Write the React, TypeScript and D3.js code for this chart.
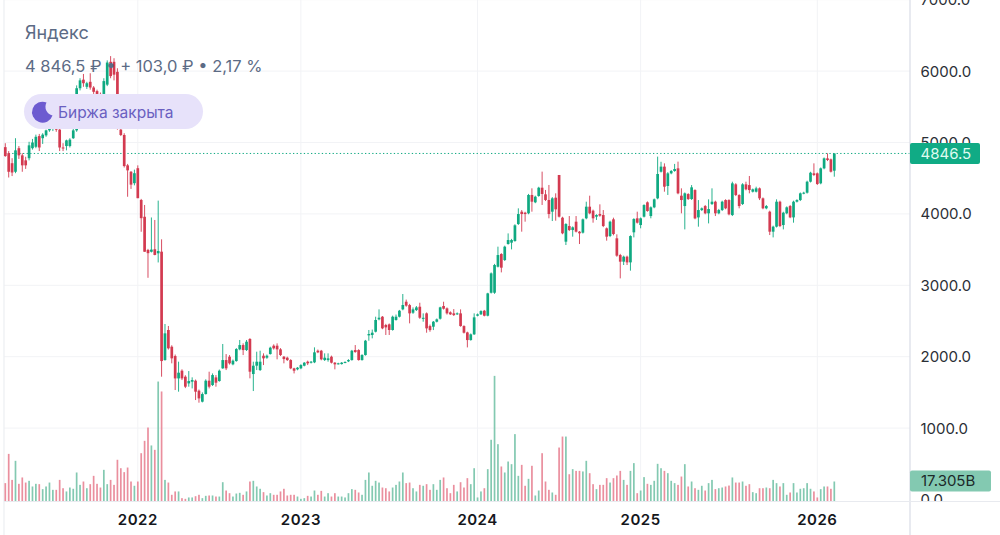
import { useEffect, useRef } from 'react';
import * as d3 from 'd3';

// weekly candles
const opens = [
  4935,4850,4710,4590,4920,4820,4750,4780,4920,4940,5090,5060,5100,5170,5190,5210,5180,4930,4950,4950,
  5060,5170,5760,5880,5780,5850,5770,5720,5680,5680,5810,6130,6130,5990,5180,5105,4680,4590,4430,4640,
  4195,3960,3495,3470,3505,3448,3471,1953,2374,2140,2009,1696,1804,1720,1626,1650,1664,1524,1370,1477,
  1664,1603,1710,1659,1837,1953,2000,1893,1939,2103,2163,2093,2248,1757,1874,1813,2014,1986,2037,2154,
  2154,2103,2000,1986,1953,1837,1823,1837,1874,1930,1916,1921,2084,2084,1953,1953,2000,1916,1897,1897,
  1916,1935,1953,2093,2093,1953,2023,2299,2304,2350,2523,2560,2444,2453,2374,2514,2560,2663,2770,2723,
  2616,2653,2700,2530,2607,2429,2420,2490,2532,2710,2677,2621,2607,2593,2607,2429,2340,2233,2313,2574,
  2593,2644,2574,2896,2896,3260,3438,3354,3578,3597,3620,3858,4031,4017,4008,4265,4162,4251,4367,4274,
  4195,4031,4227,4545,3947,3611,3830,3774,3891,3751,3737,3938,4101,4045,3961,3998,3984,3798,3690,3924,
  3658,3424,3331,3401,3321,3742,3938,3844,3961,4162,3970,4092,4218,4591,4662,4391,4568,4601,4638,4255,
  4110,4278,4208,4334,3951,4054,4110,4008,4138,4171,4008,4054,4194,4194,3984,4414,4264,4138,4414,4404,
  4311,4311,4358,4218,4078,4031,3751,3821,4171,3844,4008,4110,3951,4171,4194,4288,4297,4451,4568,4568,
  4428,4638,4778,4764,4605,
];
const closes = [
  4810,4590,4580,4890,4820,4680,4680,4960,5000,5080,4930,5110,5170,5190,5210,5180,4930,4920,5030,5040,
  5170,5760,5870,5830,5830,5770,5710,5680,5650,5860,6120,5930,5950,5200,5105,4670,4610,4410,4570,4220,
  3940,3470,3450,3500,3425,3480,1939,2327,2117,1977,1696,1776,1696,1580,1659,1673,1510,1416,1477,1664,
  1580,1743,1636,1804,1953,1837,1907,1944,2107,2163,2093,2210,1790,1874,1930,1930,1977,2014,2126,2117,
  2103,2023,1967,1953,1837,1804,1846,1883,1916,1907,1930,2061,2061,1963,1986,1977,1916,1893,1907,1916,
  1925,1953,2084,2065,1953,2023,2224,2318,2336,2514,2546,2397,2411,2374,2560,2560,2644,2724,2715,2607,
  2663,2691,2546,2545,2397,2373,2490,2523,2691,2672,2607,2593,2583,2607,2429,2336,2233,2313,2551,2593,
  2639,2574,2887,3167,3284,3424,3247,3541,3634,3634,3840,3998,3998,3998,4265,4171,4241,4367,4279,4195,
  3998,4218,4064,3961,3728,3858,3774,3812,3751,3728,3924,4101,4008,3938,3984,3975,3830,3681,3891,3718,
  3415,3331,3401,3321,3690,3928,3877,3938,4124,4040,4092,4204,4559,4662,4381,4568,4601,4629,4288,4194,
  4288,4208,4372,3937,4054,4078,4008,4068,4171,4008,4054,4171,4078,3994,4428,4264,4110,4414,4344,4334,
  4344,4358,4218,4078,4110,3751,3821,4171,3830,4017,4092,3951,4171,4194,4288,4297,4451,4577,4545,4419,
  4638,4778,4755,4591,4846.5,
];
const highs = [
  4990,4880,4780,5060,4950,4850,4800,5010,5050,5110,5120,5130,5180,5220,5240,5230,5190,4990,5040,5060,
  5200,5800,5900,5960,5850,5970,5790,5740,5700,5900,6150,6210,6180,6040,5190,5130,4700,4600,4620,4680,
  4210,4125,3510,3950,3915,4186,3644,2458,2430,2160,2030,1930,1823,1740,1799,1711,1680,1540,1500,1683,
  1790,1766,1743,1820,2178,2037,2023,1960,2120,2234,2187,2234,2260,1930,2070,2084,2047,2030,2140,2173,
  2187,2120,2010,2000,1965,1845,1855,1895,1925,1945,1940,2131,2100,2095,2047,2047,2015,1925,1915,1925,
  1935,1965,2095,2163,2105,2035,2235,2374,2380,2560,2663,2570,2460,2465,2575,2590,2655,2878,2800,2740,
  2690,2710,2756,2607,2620,2450,2500,2535,2700,2770,2690,2635,2667,2620,2663,2440,2350,2325,2607,2605,
  2650,2655,2895,3180,3300,3541,3450,3555,3727,3650,3855,4078,4054,4030,4280,4358,4255,4380,4592,4335,
  4405,4235,4288,4545,3960,3870,3970,3825,3970,3760,3935,4171,4255,4060,3995,4134,4054,3810,3905,3947,
  3714,3440,3415,3415,3700,3940,4031,3950,4135,4175,4105,4215,4802,4730,4708,4585,4615,4700,4732,4358,
  4300,4290,4404,4345,4194,4090,4125,4204,4358,4185,4070,4185,4205,4205,4451,4430,4275,4430,4451,4531,
  4355,4381,4370,4230,4125,4045,3835,4204,4185,4030,4105,4125,4185,4205,4300,4310,4465,4590,4708,4580,
  4650,4790,4848,4775,4846.5,
];
const lows = [
  4800,4510,4530,4570,4770,4590,4630,4750,4900,4920,4880,4980,5080,5150,5160,5150,4880,4880,4890,4930,
  5050,5150,5730,5780,5750,5740,5680,5650,5630,5650,5790,5900,5870,5180,5090,4650,4240,4350,4400,4220,
  3750,3470,3105,3460,3420,3320,1720,1945,2100,1907,1533,1510,1673,1560,1580,1556,1393,1356,1360,1470,
  1556,1590,1580,1650,1830,1813,1890,1880,1930,2090,2023,2080,1697,1519,1813,1800,1883,1970,2030,2100,
  1963,2010,1907,1940,1825,1766,1810,1825,1865,1883,1905,1910,2050,1950,1940,1930,1905,1823,1890,1890,
  1910,1925,1945,2055,1945,1945,2015,2224,2257,2340,2510,2385,2304,2304,2365,2505,2550,2650,2700,2467,
  2600,2640,2530,2490,2336,2350,2373,2480,2520,2660,2590,2585,2570,2585,2420,2325,2130,2225,2305,2565,
  2585,2565,2565,2885,2880,3250,3181,3340,3570,3503,3610,3845,3751,3891,3995,4031,4150,4240,4125,4180,
  3938,3900,3905,3950,3715,3564,3760,3681,3740,3578,3725,3925,3995,3877,3915,3960,3815,3625,3675,3700,
  3400,3097,3284,3284,3205,3671,3865,3798,3950,4030,3938,4080,4205,4580,4311,4265,4555,4590,4275,4008,
  3783,4195,4195,3925,3821,4040,3995,3867,4125,3970,3995,4040,4065,3980,3970,4250,4078,4125,4330,4288,
  4300,4300,4194,4065,4065,3704,3671,3810,3815,3783,3995,3940,3877,4160,4180,4275,4285,4440,4530,4405,
  4415,4625,4740,4580,4521,
];
// volume in billions
const volumes = [
  15.9,41.2,18.7,35.2,15.3,20.8,16.4,17.9,13.0,15.3,15.0,10.7,13.0,16.4,10.1,10.1,18.7,11.5,8.7,12.1,
  11.0,25.1,14.4,17.3,11.5,15.0,22.2,15.3,12.1,27.4,15.0,18.7,14.4,36.1,28.8,25.4,29.4,17.3,13.6,17.3,
  41.8,52.5,64.0,48.5,44.7,103.8,95.2,18.7,16.4,5.8,8.7,8.7,2.9,2.3,3.5,3.5,4.6,5.8,2.9,4.9,
  5.2,5.2,4.3,4.3,16.7,9.5,7.2,4.3,6.9,7.5,5.8,8.7,17.3,17.9,13.0,11.0,8.1,5.2,7.2,5.8,
  5.8,8.7,11.0,5.2,5.8,5.8,4.3,2.3,2.9,4.9,4.3,9.5,5.8,9.2,4.3,7.2,
  4.3,7.2,4.3,4.3,3.5,7.2,10.7,10.1,7.8,5.8,18.7,25.1,13.6,17.9,16.4,12.1,11.5,8.7,12.1,14.4,
  17.3,25.1,15.9,16.4,11.5,8.7,14.4,13.6,15.0,10.1,15.0,10.1,18.7,20.8,11.5,7.2,14.4,8.7,16.7,12.1,
  20.2,15.0,28.8,3.5,8.7,11.5,28.0,53.4,108.7,49.6,30.3,25.1,34.6,32.3,58.3,22.2,31.7,13.6,19.6,30.9,
  5.2,9.5,41.8,17.3,10.1,7.8,5.8,46.7,56.2,56.2,23.6,28.0,26.5,26.5,26.0,35.2,24.5,15.0,10.7,14.4,
  14.4,20.2,16.4,20.2,22.5,26.5,18.7,14.4,26.5,33.2,7.2,9.5,21.1,15.3,14.4,17.9,32.6,28.8,26.5,24.5,
  17.9,15.9,14.4,21.6,32.3,13.0,17.3,11.5,10.1,13.6,9.5,15.9,18.7,10.7,11.5,12.1,13.0,13.8,20.8,16.4,
  16.4,17.3,13.6,15.0,8.1,7.2,11.5,11.5,12.1,11.5,18.7,15.9,13.0,15.9,5.8,7.8,15.9,7.8,11.0,11.5,
  15.9,11.0,8.7,3.5,10.7,13.0,13.0,11.0,17.305,
];

const priceTicks = [0, 1000, 2000, 3000, 4000, 5000, 6000, 7000];
const yearLabels = ['2022', '2023', '2024', '2025', '2026'];
const yearBars = [39, 87, 139, 187, 239];
const lastPrice = 4846.5;

const UP = '#0fa981';
const DOWN = '#d33a50';
const UP_VOL = '#83c9b1';
const DOWN_VOL = '#ea8f9e';
const FONT = 'Inter, "Noto Sans", sans-serif';

const App = () => {
  const svgRef = useRef<SVGSVGElement>(null);

  useEffect(() => {
    const svg = d3.select(svgRef.current!);
    svg.selectAll('*').remove();

    const plotRight = 910;
    const baseY = 501.5;
    const x = d3.scaleLinear().domain([0, opens.length - 1]).range([5.3, 834.3]);
    const y = d3.scaleLinear().domain([0, 7000]).range([499.5, -0.3]);
    const v = d3.scaleLinear().domain([0, 17.305]).range([baseY, baseY - 20]);
    const isUp = (i: number) => closes[i] >= opens[i];

    svg.append('defs').append('clipPath').attr('id', 'axis-clip')
      .append('rect').attr('x', plotRight).attr('y', 0).attr('width', 90).attr('height', baseY);

    // grid
    svg.append('g').selectAll('line').data(priceTicks.filter(d => d > 0)).join('line')
      .attr('x1', 4).attr('x2', plotRight)
      .attr('y1', d => y(d)).attr('y2', d => y(d))
      .attr('stroke', '#f2f3f6').attr('stroke-width', 1);
    svg.append('g').selectAll('line').data(yearBars).join('line')
      .attr('x1', d => x(d)).attr('x2', d => x(d))
      .attr('y1', 0).attr('y2', baseY)
      .attr('stroke', '#f2f3f6').attr('stroke-width', 1);

    svg.append('line').attr('x1', 4).attr('x2', 4).attr('y1', 0).attr('y2', 535)
      .attr('stroke', '#eceef2').attr('stroke-width', 1.2);

    // volume
    svg.append('g').selectAll('rect').data(volumes).join('rect')
      .attr('x', (_, i) => x(i) - 0.85)
      .attr('width', 1.7)
      .attr('y', d => v(d))
      .attr('height', d => baseY - v(d))
      .attr('fill', (_, i) => (isUp(i) ? UP_VOL : DOWN_VOL));

    // last price line
    svg.append('line').attr('x1', 5).attr('x2', plotRight)
      .attr('y1', y(lastPrice)).attr('y2', y(lastPrice))
      .attr('stroke', UP).attr('stroke-width', 1).attr('stroke-dasharray', '1.3 2.3');

    // candles
    const candle = svg.append('g').selectAll('g').data(opens).join('g')
      .attr('fill', (_, i) => (isUp(i) ? UP : DOWN))
      .attr('stroke', (_, i) => (isUp(i) ? UP : DOWN));
    candle.append('line')
      .attr('x1', (_, i) => x(i)).attr('x2', (_, i) => x(i))
      .attr('y1', (_, i) => y(highs[i])).attr('y2', (_, i) => y(lows[i]))
      .attr('stroke-width', 0.9);
    candle.append('rect')
      .attr('stroke', 'none')
      .attr('x', (_, i) => x(i) - 1.35)
      .attr('width', 2.7)
      .attr('y', (_, i) => y(Math.max(opens[i], closes[i])))
      .attr('height', (_, i) => Math.max(1, Math.abs(y(opens[i]) - y(closes[i]))));

    // right axis
    svg.append('g').attr('clip-path', 'url(#axis-clip)').selectAll('text').data(priceTicks).join('text')
      .attr('x', 920.5).attr('y', d => y(d)).attr('dy', '0.36em')
      .attr('font-family', FONT).attr('font-size', 15).attr('fill', '#2b2f36')
      .text(d => d3.format('.1f')(d));

    svg.append('line').attr('x1', plotRight).attr('x2', plotRight).attr('y1', 0).attr('y2', 535)
      .attr('stroke', '#d9dce6').attr('stroke-width', 1.2);
    svg.append('line').attr('x1', 4).attr('x2', 1000).attr('y1', baseY).attr('y2', baseY)
      .attr('stroke', '#e8eaef').attr('stroke-width', 1);

    // bottom axis
    svg.append('g').selectAll('text').data(yearLabels).join('text')
      .attr('x', (_, i) => x(yearBars[i])).attr('y', 520).attr('dy', '0.36em')
      .attr('text-anchor', 'middle')
      .attr('font-family', FONT).attr('font-size', 15).attr('font-weight', 600)
      .attr('letter-spacing', 0.5).attr('fill', '#15171c')
      .text(d => d);

    // price tags
    svg.append('rect').attr('x', plotRight).attr('y', 143).attr('width', 70).attr('height', 21)
      .attr('rx', 2).attr('fill', '#10ab85');
    svg.append('text').attr('x', 920.5).attr('y', 153.5).attr('dy', '0.36em')
      .attr('font-family', FONT).attr('font-size', 15).attr('fill', '#dffbf0').text('4846.5');
    svg.append('rect').attr('x', plotRight).attr('y', 470.5).attr('width', 81).attr('height', 21)
      .attr('rx', 2).attr('fill', UP_VOL);
    svg.append('text').attr('x', 921).attr('y', 481).attr('dy', '0.36em')
      .attr('font-family', FONT).attr('font-size', 15).attr('fill', '#1d2a2a').text('17.305B');

    // header
    svg.append('text').attr('x', 25).attr('y', 33).attr('dy', '0.36em')
      .attr('font-family', FONT).attr('font-size', 18).attr('fill', '#5c6b85').text('Яндекс');
    svg.append('text').attr('x', 25).attr('y', 66).attr('dy', '0.36em')
      .attr('font-family', FONT).attr('font-size', 16.5).attr('fill', '#5c6b85').text('4 846,5 ₽ • + 103,0 ₽ • 2,17 %');
    svg.append('rect').attr('x', 24).attr('y', 94).attr('width', 179).attr('height', 35)
      .attr('rx', 17.5).attr('fill', '#e7e2fa');
    svg.append('path')
      .attr('d', 'M46.5 102.5 A10.5 10.5 0 1 0 52.5 115.5 A9 9 0 0 1 46.5 102.5 Z')
      .attr('fill', '#6d5bd0');
    svg.append('text').attr('x', 58).attr('y', 112).attr('dy', '0.36em')
      .attr('font-family', FONT).attr('font-size', 15.5).attr('fill', '#6a5fc1').text('Биржа закрыта');
  }, []);

  return <svg ref={svgRef} width={1000} height={535} style={{ position: 'absolute', left: 0, top: 0, background: '#fff' }}></svg>;
};

export default App;
